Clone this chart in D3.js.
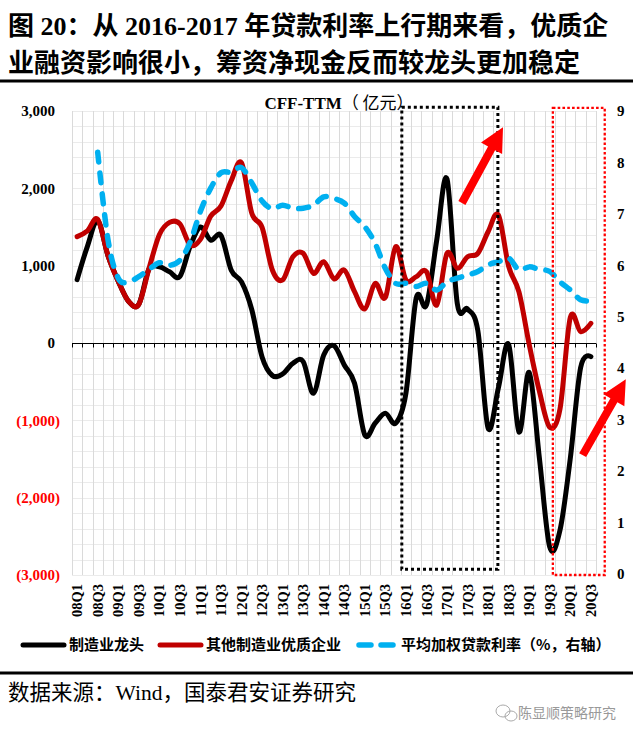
<!DOCTYPE html>
<html><head><meta charset="utf-8">
<script src="https://cdn.jsdelivr.net/npm/d3@7"></script>
<style>
body{margin:0;background:#fff;}
svg{display:block;}
</style></head><body>
<svg id="c" width="633" height="740"></svg>
<script>
// ---------------- data ----------------
const quarters = ["08Q1","08Q2","08Q3","08Q4","09Q1","09Q2","09Q3","09Q4",
  "10Q1","10Q2","10Q3","10Q4","11Q1","11Q2","11Q3","11Q4",
  "12Q1","12Q2","12Q3","12Q4","13Q1","13Q2","13Q3","13Q4",
  "14Q1","14Q2","14Q3","14Q4","15Q1","15Q2","15Q3","15Q4",
  "16Q1","16Q2","16Q3","16Q4","17Q1","17Q2","17Q3","17Q4",
  "18Q1","18Q2","18Q3","18Q4","19Q1","19Q2","19Q3","19Q4",
  "20Q1","20Q2","20Q3"];
// 制造业龙头 (亿元)
const leaders = [820,1250,1580,1130,800,540,500,960,
  985,920,860,1250,1500,1330,1390,940,
  790,430,-180,-420,-400,-263,-240,-650,
  -155,-35,-284,-521,-1190,-1038,-909,-1038,
  -650,580,491,1332,2120,510,440,160,
  -1100,-580,-20,-1150,-380,-1500,-2640,-2418,
  -1490,-320,-177];
// 其他制造业优质企业 (亿元)
const others = [1375,1450,1600,1130,800,540,500,966,
  1400,1560,1540,1270,1340,1640,1770,2100,
  2330,1677,1495,944,815,1116,1160,901,
  1051,830,944,664,440,771,590,1245,
  815,857,922,491,1160,966,1116,1160,
  1439,1655,990,660,-20,-630,-1090,-850,
  330,146,254];
// 平均加权贷款利率 (%, 右轴)
const loanRate = [null,null,8.2,6.5,5.75,5.68,5.78,5.92,
  6.05,6.0,6.1,6.45,7.05,7.5,7.8,7.81,
  7.9,7.6,7.25,7.1,7.17,7.11,7.11,7.17,
  7.33,7.3,7.21,6.95,6.75,6.43,5.94,5.65,
  5.65,5.59,5.65,5.52,5.68,5.75,5.81,5.88,
  6.01,6.07,6.14,5.91,5.97,5.92,5.88,5.68,
  5.52,5.33,5.31];
const leftTicks = [3000,2000,1000,0,-1000,-2000,-3000];
const rightTicks = [0,1,2,3,4,5,6,7,8,9];
const xLabels = quarters.filter((q,i)=>i%2===0);
const seriesNames = ["制造业龙头","其他制造业优质企业","平均加权贷款利率（%，右轴）"];
const titleLines = ["图 20：从 2016-2017 年贷款利率上行期来看，优质企","业融资影响很小，筹资净现金反而较龙头更加稳定"];
const chartTitle = "CFF-TTM";
const chartUnit = "（ 亿元）";
const sourceText = "数据来源：Wind，国泰君安证券研究";
const watermark = "陈显顺策略研究";
// annotation boxes / arrows (in quarter-index and value units)
const boxes = [
  {k0:32.1, k1:41.45, v0:3050, v1:-2925, color:"#000000", w:3, dash:"3,3"},
  {k0:46.8, k1:51.85, v0:3040, v1:-3000, color:"#ff0000", w:2.3, dash:"2.6,2.2"}
];
const arrows = [
  {k0:37.95, v0:1810, k1:41.95, v1:2790},
  {k0:49.7, v0:-1450, k1:53.9, v1:-470}
];

// ---------------- layout ----------------
const svg = d3.select("#c");
const L = 72, R = 596, T = 111, B = 575;
const x = d3.scaleBand().domain(quarters).range([L,R]).paddingInner(0).paddingOuter(0);
const step = x.step();
const xc = q => x(q) + x.bandwidth()/2;
const xk = k => L + k*step;
const yL = d3.scaleLinear().domain([-3000,3000]).range([B,T]);
const yR = d3.scaleLinear().domain([0,9]).range([B-1,T]);

const serif = "'Liberation Serif','Times New Roman',serif";
const cjk = "'Liberation Serif','Noto Sans CJK SC',serif";

// title
svg.selectAll("text.title").data(titleLines).join("text")
  .attr("x",8).attr("y",(d,i)=>35+i*37)
  .attr("font-family",cjk).attr("font-weight","bold").attr("font-size",26)
  .attr("fill","#000").text(d=>d);
svg.append("rect").attr("x",0).attr("y",79.5).attr("width",633).attr("height",3).attr("fill","#000");

// gridlines
const g = svg.append("g");
g.selectAll("line.h").data(d3.range(-3000,3001,200)).join("line")
  .attr("x1",L).attr("x2",R).attr("y1",d=>Math.round(yL(d))+0.5).attr("y2",d=>Math.round(yL(d))+0.5)
  .attr("stroke","#ebebeb").attr("stroke-width",1);
const bounds = quarters.map(q=>x(q)).concat([R]);
g.selectAll("line.v").data(bounds).join("line")
  .attr("x1",d=>Math.round(d)+0.5).attr("x2",d=>Math.round(d)+0.5).attr("y1",T).attr("y2",B)
  .attr("stroke","#dadada").attr("stroke-width",1);

// zero axis with ticks
const y0 = Math.round(yL(0))+0.5;
g.append("line").attr("x1",L).attr("x2",R).attr("y1",y0).attr("y2",y0).attr("stroke","#000").attr("stroke-width",1);
g.selectAll("line.t").data(bounds).join("line")
  .attr("x1",d=>Math.round(d)+0.5).attr("x2",d=>Math.round(d)+0.5).attr("y1",y0).attr("y2",y0+4)
  .attr("stroke","#000").attr("stroke-width",1);

// left axis labels
const fmt = d3.format(",");
svg.selectAll("text.yl").data(leftTicks).join("text")
  .attr("x",d=>d<0?60:55).attr("y",d=>yL(d)).attr("dy","0.35em")
  .attr("text-anchor","end").attr("font-family",serif).attr("font-weight","bold").attr("font-size",15)
  .attr("fill",d=>d<0?"#ff0000":"#000")
  .text(d=>d<0?"("+fmt(-d)+")":fmt(d));
// right axis labels
svg.selectAll("text.yr").data(rightTicks).join("text")
  .attr("x",617).attr("y",d=>yR(d)).attr("dy","0.35em")
  .attr("font-family",serif).attr("font-weight","bold").attr("font-size",15).attr("fill","#000")
  .text(d=>d);
// x labels
svg.selectAll("text.xl").data(xLabels).join("text")
  .attr("transform",d=>`translate(${xc(d)},584) rotate(-90)`)
  .attr("text-anchor","end").attr("dy","0.35em")
  .attr("font-family",serif).attr("font-weight","bold").attr("font-size",14.5).attr("fill","#000")
  .text(d=>d);

// lines
const line = d3.line().defined(d=>d!=null).curve(d3.curveCatmullRom.alpha(0));
function path(vals, yScale){
  return line.x((d,i)=>xc(quarters[i])).y(d=>yScale(d))(vals);
}
svg.append("path").attr("d",path(leaders,yL)).attr("fill","none").attr("stroke","#000")
  .attr("stroke-width",5).attr("stroke-linejoin","round").attr("stroke-linecap","round");
svg.append("path").attr("d",path(others,yL)).attr("fill","none").attr("stroke","#c00000")
  .attr("stroke-width",5).attr("stroke-linejoin","round").attr("stroke-linecap","round");
svg.append("path").attr("d",path(loanRate,yR)).attr("fill","none").attr("stroke","#00b0f0")
  .attr("stroke-width",5.5).attr("stroke-dasharray","10,11").attr("stroke-linecap","round");

// boxes
svg.selectAll("rect.box").data(boxes).join("rect")
  .attr("x",d=>xk(d.k0)).attr("y",d=>yL(d.v0))
  .attr("width",d=>xk(d.k1)-xk(d.k0)).attr("height",d=>yL(d.v1)-yL(d.v0))
  .attr("fill","none").attr("stroke",d=>d.color).attr("stroke-width",d=>d.w).attr("stroke-dasharray",d=>d.dash);

// arrows
function arrowPath(x1,y1,x2,y2){
  const dx=x2-x1, dy=y2-y1, len=Math.hypot(dx,dy);
  const ux=dx/len, uy=dy/len, px=-uy, py=ux;
  const hl=24, hw=12, sw=4;
  const bx=x2-ux*hl, by=y2-uy*hl;
  const pts=[[x1+px*sw,y1+py*sw],[bx+px*sw,by+py*sw],[bx+px*hw,by+py*hw],[x2,y2],
    [bx-px*hw,by-py*hw],[bx-px*sw,by-py*sw],[x1-px*sw,y1-py*sw]];
  return "M"+pts.map(p=>p.join(",")).join("L")+"Z";
}
svg.selectAll("path.arrow").data(arrows).join("path")
  .attr("d",d=>arrowPath(xk(d.k0),yL(d.v0),xk(d.k1),yL(d.v1)))
  .attr("fill","#ff0000");

// chart title
const ct = svg.append("text").attr("x",339).attr("y",109).attr("text-anchor","middle")
  .attr("font-size",17).attr("fill","#000");
ct.append("tspan").attr("font-family",serif).attr("font-weight","bold").text(chartTitle);
ct.append("tspan").attr("font-family","'Noto Sans CJK SC',sans-serif").attr("font-size",17).text(chartUnit);

// legend
const lg = svg.append("g");
const legY = 645;
lg.append("line").attr("x1",23).attr("x2",64).attr("y1",legY).attr("y2",legY)
  .attr("stroke","#000").attr("stroke-width",5).attr("stroke-linecap","round");
lg.append("line").attr("x1",160).attr("x2",201).attr("y1",legY).attr("y2",legY)
  .attr("stroke","#c00000").attr("stroke-width",5).attr("stroke-linecap","round");
lg.append("line").attr("x1",359).attr("x2",396).attr("y1",legY).attr("y2",legY)
  .attr("stroke","#00b0f0").attr("stroke-width",5.5).attr("stroke-dasharray","12,10").attr("stroke-linecap","round");
const legX = [69,206,401];
lg.selectAll("text").data(seriesNames).join("text")
  .attr("x",(d,i)=>legX[i]).attr("y",legY).attr("dy","0.36em")
  .attr("font-family","'Noto Sans CJK SC',sans-serif").attr("font-weight","bold").attr("font-size",15)
  .attr("fill","#000").text(d=>d);
svg.append("rect").attr("x",0).attr("y",671.5).attr("width",633).attr("height",3).attr("fill","#000");

// source
svg.append("text").attr("x",8).attr("y",700).attr("font-family","'Liberation Serif','Noto Sans CJK SC',serif")
  .attr("font-size",21.5).attr("fill","#000").text(sourceText);
// watermark
const wm = svg.append("g").attr("fill","none").attr("stroke","#aaa").attr("stroke-width",1);
wm.append("ellipse").attr("cx",503).attr("cy",711).attr("rx",7).attr("ry",6);
wm.append("ellipse").attr("cx",511).attr("cy",716).attr("rx",6).attr("ry",5);
svg.append("text").attr("x",518).attr("y",718).attr("font-family","'Noto Sans CJK SC',sans-serif")
  .attr("font-size",14).attr("fill","#999").text(watermark);
</script>
</body></html>
